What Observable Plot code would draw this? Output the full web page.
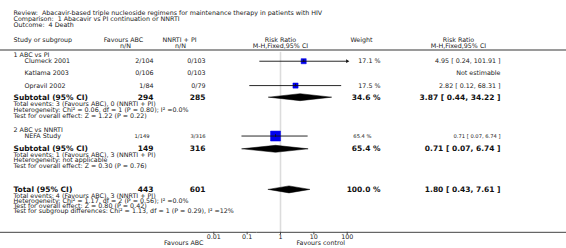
<!DOCTYPE html>
<html>
<head>
<meta charset="utf-8">
<script src="https://cdn.jsdelivr.net/npm/d3@7"></script>
<script src="https://cdn.jsdelivr.net/npm/@observablehq/plot@0.6"></script>
<style>
  html, body { margin: 0; padding: 0; background: #fff; }
  svg { display: block; font-family: "DejaVu Sans", sans-serif; }
</style>
</head>
<body>
<div id="chart"></div>
<script>
// ---------- DATA ----------
const titleLines = [
  "Review:  Abacavir-based triple nucleoside regimens for maintenance therapy in patients with HIV",
  "Comparison:  1 Abacavir vs PI continuation or NNRTI",
  "Outcome:  4 Death"
];
const studies   = ["Clumeck 2001", "Katlama 2003", "Opravil 2002", "NEFA Study"];
const studyGrp  = [0, 0, 0, 1];
const abcEvents = [2, 0, 1, 1];
const abcTotal  = [104, 106, 84, 149];
const ctlEvents = [0, 0, 0, 3];
const ctlTotal  = [103, 103, 79, 316];
const studyRR   = [4.95, null, 2.82, 0.71];
const studyLo   = [0.24, null, 0.12, 0.07];
const studyHi   = [101.91, null, 68.31, 6.74];
const studyW    = [17.1, null, 17.5, 65.4];

const groups    = ["1 ABC vs PI", "2 ABC vs NNRTI"];
const subAbcN   = [294, 149];
const subCtlN   = [285, 316];
const subRR     = [3.87, 0.71];
const subLo     = [0.44, 0.07];
const subHi     = [34.22, 6.74];
const subW      = [34.6, 65.4];
const subNotes  = [
  ["Total events: 3 (Favours ABC), 0 (NNRTI + PI)",
   "Heterogeneity: Chi² = 0.06, df = 1 (P = 0.80); I² =0.0%",
   "Test for overall effect: Z = 1.22 (P = 0.22)"],
  ["Total events: 1 (Favours ABC), 3 (NNRTI + PI)",
   "Heterogeneity: not applicable",
   "Test for overall effect: Z = 0.30 (P = 0.76)"]
];
const totAbcN = 443, totCtlN = 601, totRR = 1.80, totLo = 0.43, totHi = 7.61, totW = 100.0;
const totNotes = [
  "Total events: 4 (Favours ABC), 3 (NNRTI + PI)",
  "Heterogeneity: Chi² = 1.17, df = 2 (P = 0.56); I² =0.0%",
  "Test for overall effect: Z = 0.80 (P = 0.42)",
  "Test for subgroup differences: Chi² = 1.13, df = 1 (P = 0.29), I² =12%"
];
const tickValues = [0.01, 0.1, 1, 10, 100];
const tickLabels = ["0.01", "0.1", "1", "10", "100"];
const leftLabel = "Favours ABC", rightLabel = "Favours control";

// ---------- LAYOUT (line positions, columns, styles) ----------
const L = {
  title: [0, 1.03, 2.07], head1: 4.66, head2: 5.69, sep: 6.47,
  group: [7.24, 20.3], study: [8.4, 10.45, 12.6, 21.3],
  sub: [14.6, 23.5], subNote: [[15.7, 16.8, 17.9], [24.5, 25.5, 26.5]],
  tot: 30.5, totNote: [31.6, 32.5, 33.4, 34.3],
  axis: 37.9, tickLab: 38.75, favLab: 39.7
};
const C = { left: 13, indent: 24, abc: 153, ctl: 205, abcHead: 123, ctlHead: 179,
            weight: 380, weightHead: 361, rr: 500, rrHead: 458, favL: 203, favR: 296 };
const FS = 6.35, FSB = 7.5, FSS = 5.2;
const ink = "#222";
const xMin = 0.01, xMax = 100;

const fmt2 = d3.format(".2f");
const ciText = (r, l, h) => `${fmt2(r)} [ ${fmt2(l)}, ${fmt2(h)} ]`;

// ---------- ROWS ----------
const studyRows = studies.map((s, i) => ({
  name: s, line: L.study[i], small: studyGrp[i] === 1,
  abc: `${abcEvents[i]}/${abcTotal[i]}`, ctl: `${ctlEvents[i]}/${ctlTotal[i]}`,
  rr: studyRR[i], lo: studyLo[i], hi: studyHi[i], w: studyW[i],
  wText: studyW[i] == null ? "" : `${studyW[i].toFixed(1)} %`,
  ciText: studyRR[i] == null ? "Not estimable" : ciText(studyRR[i], studyLo[i], studyHi[i])
}));
const estRows = studyRows.filter(d => d.rr != null);
const normRows = studyRows.filter(d => !d.small);
const smallRows = studyRows.filter(d => d.small);

const sumRows = groups.map((g, i) => ({
  label: "Subtotal (95% CI)", line: L.sub[i], abc: String(subAbcN[i]), ctl: String(subCtlN[i]),
  rr: subRR[i], lo: subLo[i], hi: subHi[i], wText: `${subW[i].toFixed(1)} %`,
  ciText: ciText(subRR[i], subLo[i], subHi[i])
})).concat([{
  label: "Total (95% CI)", line: L.tot, abc: String(totAbcN), ctl: String(totCtlN),
  rr: totRR, lo: totLo, hi: totHi, wText: `${totW.toFixed(1)} %`,
  ciText: ciText(totRR, totLo, totHi)
}]);

const dh = 0.6;
const diamond = sumRows.flatMap((d, i) => [
  {id: i, x: d.lo, y: d.line}, {id: i, x: d.rr, y: d.line - dh},
  {id: i, x: d.hi, y: d.line}, {id: i, x: d.rr, y: d.line + dh}, {id: i, x: d.lo, y: d.line}
]);

const leftText = [
  ...titleLines.map((t, i) => ({t, line: L.title[i]})),
  {t: "Study or subgroup", line: L.head1},
  ...groups.map((g, i) => ({t: g, line: L.group[i]})),
  ...subNotes.flatMap((ns, i) => ns.map((t, j) => ({t, line: L.subNote[i][j]}))),
  ...totNotes.map((t, j) => ({t, line: L.totNote[j]}))
];
const headCenter = [
  {t: "Favours ABC", line: L.head1, dx: C.abcHead}, {t: "n/N", line: L.head2, dx: C.abcHead + 2},
  {t: "NNRTI + PI", line: L.head1, dx: C.ctlHead}, {t: "n/N", line: L.head2, dx: C.ctlHead + 1},
  {t: "Weight", line: L.head1, dx: C.weightHead},
  {t: "Risk Ratio", line: L.head1, dx: C.rrHead}, {t: "M-H,Fixed,95% CI", line: L.head2, dx: C.rrHead}
];
const plotHead = [
  {t: "Risk Ratio", line: L.head1}, {t: "M-H,Fixed,95% CI", line: L.head2}
];

const txt = (data, o) => Plot.text(data, {frameAnchor: "left", lineAnchor: "middle", fill: ink, fontSize: FS, ...o});
const bold = {fontSize: FSB, fontWeight: "bold", fill: "#111"};

const chart = Plot.plot({
  width: 566, height: 248, margin: 0,
  style: {fontFamily: "'DejaVu Sans', sans-serif", background: "#fff"},
  x: {type: "log", domain: [xMin, xMax], range: [213.3, 346.7], axis: null},
  y: {domain: [0, 38], range: [12, 232.4], axis: null},
  r: {type: "sqrt", domain: [0, 100], range: [0, 6.97]},
  marks: [
    // separators and axis
    Plot.ruleY([L.sep], {y: d => d, stroke: "#9a9a9a", strokeWidth: 2}),
    Plot.ruleX([1], {x: d => d, y1: L.sep + 0.4, y2: L.axis, stroke: "#dcdcdc", strokeWidth: 1.6}),
    Plot.ruleY([L.axis], {y: d => d, stroke: "#444", strokeWidth: 1}),
    Plot.ruleX(tickValues, {x: d => d, y1: L.axis, y2: L.axis + 0.45, stroke: "#444", strokeWidth: 1}),
    Plot.text(tickValues, {x: d => d, y: L.tickLab, text: (d, i) => tickLabels[i], fill: ink, fontSize: FS, lineAnchor: "middle"}),
    txt([leftLabel], {text: d => d, y: L.favLab, dx: C.favL, textAnchor: "end"}),
    txt([rightLabel], {text: d => d, y: L.favLab, dx: C.favR, textAnchor: "start"}),

    // header / notes
    txt(leftText, {text: "t", y: "line", dx: C.left, textAnchor: "start"}),
    ...headCenter.map(h => txt([h], {text: "t", y: "line", dx: h.dx, textAnchor: "middle"})),
    Plot.text(plotHead, {x: () => 1, y: "line", text: "t", fill: ink, fontSize: FS, lineAnchor: "middle"}),

    // study rows
    txt(studyRows, {text: "name", y: "line", dx: C.indent, textAnchor: "start"}),
    txt(normRows, {text: "abc", y: "line", dx: C.abc, textAnchor: "end"}),
    txt(normRows, {text: "ctl", y: "line", dx: C.ctl, textAnchor: "end"}),
    txt(normRows, {text: "wText", y: "line", dx: C.weight, textAnchor: "end"}),
    txt(normRows, {text: "ciText", y: "line", dx: C.rr, textAnchor: "end"}),
    txt(smallRows, {text: "abc", y: "line", dx: C.abc - 4, textAnchor: "end", fontSize: FSS}),
    txt(smallRows, {text: "ctl", y: "line", dx: C.ctl, textAnchor: "end", fontSize: FSS}),
    txt(smallRows, {text: "wText", y: "line", dx: C.weight - 9, textAnchor: "end", fontSize: FSS}),
    txt(smallRows, {text: "ciText", y: "line", dx: C.rr, textAnchor: "end", fontSize: FSS}),

    // summary rows
    txt(sumRows, {text: "label", y: "line", dx: C.left, textAnchor: "start", ...bold}),
    txt(sumRows, {text: "abc", y: "line", dx: C.abc, textAnchor: "end", ...bold}),
    txt(sumRows, {text: "ctl", y: "line", dx: C.ctl, textAnchor: "end", ...bold}),
    txt(sumRows, {text: "wText", y: "line", dx: C.weight, textAnchor: "end", ...bold}),
    txt(sumRows, {text: "ciText", y: "line", dx: C.rr, textAnchor: "end", ...bold}),

    // forest marks
    Plot.dot(estRows, {x: "rr", y: "line", r: "w", symbol: "square", fill: "#0000ee", stroke: "#0000ee", strokeWidth: 0.5}),
    Plot.ruleY(estRows, {y: "line", x1: "lo", x2: d => Math.min(d.hi, xMax), stroke: "#111", strokeWidth: 0.9}),
    Plot.ruleX(estRows, {x: "rr", y1: d => d.line - 0.22, y2: d => d.line + 0.22, stroke: "#111", strokeWidth: 0.9}),
    Plot.dot(estRows.filter(d => d.hi > xMax), {x: () => xMax, y: "line", symbol: "triangle", rotate: 90, r: 1.4, fill: "#111", stroke: "none"}),
    Plot.line(diamond, {x: "x", y: "y", z: "id", fill: "#000", stroke: "#000", strokeWidth: 0.5})
  ]
});
document.getElementById("chart").appendChild(chart);
</script>
</body>
</html>
